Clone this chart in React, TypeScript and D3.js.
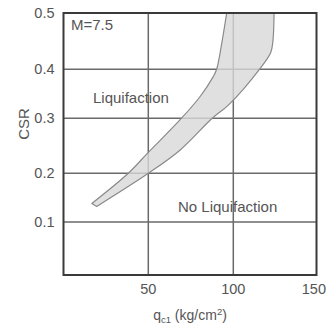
import React from "react";
import * as d3 from "d3";

const xTicks = [50, 100, 150];
const yTicks = [0.1, 0.2, 0.3, 0.4, 0.5];
// Upper/left boundary of the band, from bottom tip to top
const leftBoundary: [number, number][] = [
  [16.7, 0.138],
  [38.2, 0.2],
  [50, 0.238],
  [68.6, 0.297],
  [80.4, 0.344],
  [88.2, 0.385],
  [90.2, 0.4],
  [93.2, 0.446],
  [96.1, 0.5],
];
// Lower/right boundary of the band, from top to bottom tip
const rightBoundary: [number, number][] = [
  [124.5, 0.5],
  [123.8, 0.45],
  [122.5, 0.43],
  [115.7, 0.4],
  [97.4, 0.328],
  [87.6, 0.3],
  [68.6, 0.242],
  [50, 0.2],
  [19.6, 0.132],
];

const W = 327, H = 326;
const L = 63.5, R = 316.5, T = 13, B = 275;

export default function App() {
  // scanned figure: gridlines are slightly unevenly spaced, so map them piecewise
  const x = d3.scaleLinear().domain([0, 50, 100, 150]).range([L, 148.3, 233.3, R]);
  const y = d3
    .scaleLinear()
    .domain([0, 0.1, 0.2, 0.3, 0.4, 0.5])
    .range([B, 222, 173.3, 118.3, 69.3, T]);
  const curved = d3
    .line<[number, number]>()
    .x((d) => x(d[0]))
    .y((d) => y(d[1]))
    .curve(d3.curveCatmullRom.alpha(0.5));
  const pathL = curved(leftBoundary) || "";
  const pathR = (curved(rightBoundary) || "").replace(/^M/, "L");
  const poly = pathL + pathR + "Z";
  const txt = "#555";
  const font = "Liberation Sans, Arial, sans-serif";
  return (
    <svg
      width={W}
      height={H}
      style={{ position: "absolute", left: 0, top: 0, background: "#fff" }}
      fontFamily={font}
    >
      <defs>
        <clipPath id="pc">
          <rect x={L} y={T} width={R - L} height={B - T} />
        </clipPath>
      </defs>
      {xTicks.slice(0, 2).map((t) => (
        <line key={"gx" + t} x1={x(t)} x2={x(t)} y1={T} y2={B} stroke="#6a6a6a" strokeWidth={1.5} />
      ))}
      {yTicks.slice(0, 4).map((t) => (
        <line key={"gy" + t} x1={L} x2={R} y1={y(t)} y2={y(t)} stroke="#6a6a6a" strokeWidth={1.5} />
      ))}
      <path d={poly} fill="#d8d8d8" fillOpacity={0.8} stroke="#8a8a8a" strokeWidth={1.2} strokeLinejoin="round" clipPath="url(#pc)" />
      <rect x={L} y={T} width={R - L} height={B - T} fill="none" stroke="#3a3a3a" strokeWidth={2} />
      {yTicks.map((t) => (
        <text key={"ty" + t} x={L - 9} y={y(t) + 5} textAnchor="end" fontSize={14.5} fill={txt}>
          {t.toFixed(1)}
        </text>
      ))}
      {xTicks.map((t, i) => {
        const last = i === xTicks.length - 1;
        return (
          <text
            key={"tx" + t}
            x={last ? W - 1 : x(t)}
            y={B + 19}
            textAnchor={last ? "end" : "middle"}
            fontSize={14.5}
            fill={txt}
          >
            {t}
          </text>
        );
      })}
      <text x={71} y={30} fontSize={15} fill={txt}>M=7.5</text>
      <text x={93} y={103} fontSize={15} fill={txt}>Liquifaction</text>
      <text x={178} y={212} fontSize={15} fill={txt}>No Liquifaction</text>
      <text transform={`translate(29,${(T + B) / 2 - 20}) rotate(-90)`} textAnchor="middle" fontSize={15} fill={txt}>
        CSR
      </text>
      <text x={190} y={320} textAnchor="middle" fontSize={14} fill={txt}>
        q<tspan fontSize={9.5} dy={3}>c1</tspan>
        <tspan dy={-3}> (kg/cm</tspan>
        <tspan fontSize={9.5} dy={-5}>2</tspan>
        <tspan dy={5}>)</tspan>
      </text>
    </svg>
  );
}
